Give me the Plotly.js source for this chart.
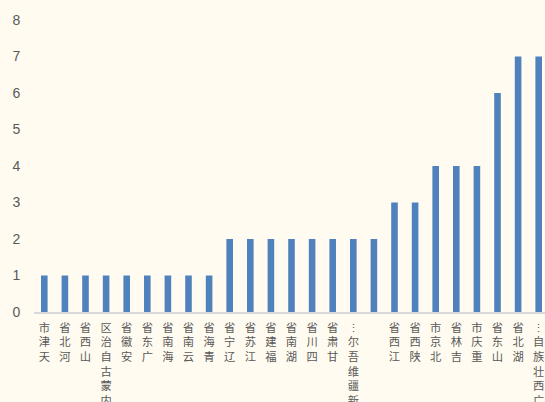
<!DOCTYPE html>
<html><head><meta charset="utf-8">
<script src="https://cdn.plot.ly/plotly-3.0.1.min.js"></script>
<style>html,body{margin:0;padding:0;overflow:hidden;background:#FFFBF0;}</style>
</head><body>
<div id="chart" style="width:549px;height:402px;"></div>
<script>
const categories = ["天津市","河北省","山西省","内蒙古自治区","安徽省","广东省","海南省","云南省","青海省","辽宁省","江苏省","福建省","湖南省","四川省","甘肃省","新疆维吾尔⋮","","江西省","陕西省","北京市","吉林省","重庆市","山东省","湖北省","广西壮族自⋮"];
const values = [1,1,1,1,1,1,1,1,1,2,2,2,2,2,2,2,2,3,3,4,4,4,6,7,7];
const yTicks = [0,1,2,3,4,5,6,7,8];

const xIdx = categories.map((_, i) => i);
// characters stacked vertically, last character nearest the axis (as in the reference)
const vertLabels = categories.map(s => Array.from(s).reverse().join('<br>'));

Plotly.newPlot('chart', [{
  type: 'bar',
  x: xIdx,
  y: values,
  marker: {color: '#4F81BD'},
  hoverinfo: 'x+y'
}], {
  width: 549, height: 402,
  paper_bgcolor: '#FFFBF0', plot_bgcolor: '#FFFBF0',
  margin: {l: 34, r: 0, t: 20, b: 90},
  bargap: 0.68,
  showlegend: false,
  xaxis: {
    range: [-0.5, categories.length - 0.5],
    tickvals: xIdx, ticktext: vertLabels, tickangle: 0,
    tickfont: {family: 'Noto Sans CJK SC', size: 11.3, color: '#595959'},
    showgrid: false, zeroline: false,
    showline: true, linecolor: '#D9D9D9', linewidth: 2,
    ticks: 'outside', ticklen: 4, tickcolor: 'rgba(0,0,0,0)'
  },
  yaxis: {
    range: [0, 8], tickvals: yTicks,
    tickfont: {family: 'Liberation Sans, Arial', size: 14, color: '#595959'},
    showgrid: false, zeroline: false, showline: false,
    ticks: 'outside', ticklen: 10, tickcolor: 'rgba(0,0,0,0)'
  }
}, {staticPlot: true});
</script>
</body></html>
